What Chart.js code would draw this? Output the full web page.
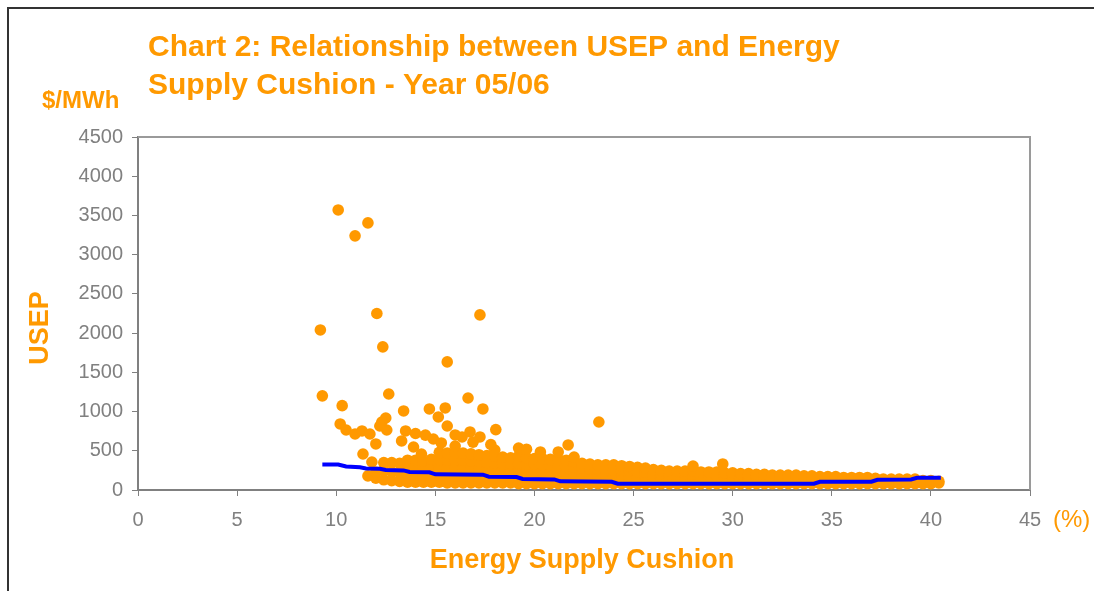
<!DOCTYPE html>
<html>
<head>
<meta charset="utf-8">
<script src="https://cdn.jsdelivr.net/npm/chart.js@4/dist/chart.umd.min.js"></script>
<style>
html,body{margin:0;padding:0;background:#fff;}
#wrap{position:relative;width:1094px;height:591px;}
</style>
</head>
<body>
<div id="wrap"><canvas id="c" width="1094" height="591"></canvas></div>
<script>
// ---- Data ----
const titleLines = ["Chart 2: Relationship between USEP and Energy", "Supply Cushion - Year 05/06"];
const xTitle = "Energy Supply Cushion";
const yTitle = "USEP";
const yUnit = "$/MWh";
const xUnit = "(%)";

// Scattered (outlying) observations: energy supply cushion (%) and USEP ($/MWh)
const outlierCushion = [9.2,9.3,10.1,10.95,11.6,12.05,12.35,17.25,15.6,12.65,10.3,13.4,14.7,15.5,16.65,17.4,15.15,23.25,18.05,21.7,28.0,29.5,
  12.5,12.3,10.2,10.5,10.95,11.3,11.7,12.2,12.55,15.6,12.0,11.35,11.8,13.5,13.3,13.9,14.3,16.75,17.25,16.0,16.35,18.0,19.2,20.3,21.2,22.0,14.0,14.5,14.9,15.3,16.9,17.8,19.6];
const outlierUsep = [2040,1200,3570,3240,3405,2250,1824,2232,1633,1224,1075,1008,1033,1046,1173,1033,931,867,770,574,306,332,
  918,867,842,765,714,753,714,816,765,816,587,459,357,753,625,548,459,740,676,702,676,510,535,485,485,420,720,700,650,600,610,580,520];

// Dense band of observations, column by column (cushion value, USEP values)
const bandCushion = [11.6,12.0,12.4,12.8,13.2,13.6,14.0,14.4,14.8,15.2,15.6,16.0,16.4,16.8,17.2,17.6,18.0,18.4,18.8,19.2,19.6,20.0,20.4,20.8,21.2,21.6,22.0,22.4,22.8,23.2,23.6,24.0,24.4,24.8,25.2,25.6,26.0,26.4,26.8,27.2,27.6,28.0,28.4,28.8,29.2,29.6,30.0,30.4,30.8,31.2,31.6,32.0,32.4,32.8,33.2,33.6,34.0,34.4,34.8,35.2,35.6,36.0,36.4,36.8,37.2,37.6,38.0,38.4,38.8,39.2,39.6,40.0,40.4];
const bandUsep = [
  [180],[150,230],[130,250,350],[120,230,350],[110,220,340],[100,200,300,380],[100,200,300,380],[100,190,290,370],[100,190,290,390],
  [100,190,290,390,480],[90,180,280,380,470],[90,180,280,380,470,560],[90,180,280,380,470],[90,170,270,370,460],[90,170,270,370,450],
  [90,170,260,350,440],[90,170,260,350,430],[90,160,250,340,420],[90,160,250,340,410],[80,160,250,340,430],[80,150,240,330,410],
  [80,150,240,330,400],[80,150,230,320,400],[80,140,230,310,390],[80,140,220,300,390],[80,140,220,300,380],[80,130,210,290,360],
  [80,130,200,280,340],[80,130,200,270,330],[80,120,190,260,320],[80,120,190,260,320],[80,120,180,250,320],[80,120,180,250,310],
  [80,120,180,240,300],[80,120,170,230,290],[80,120,170,230,280],[80,110,160,220,260],[80,110,160,210,250],[80,110,160,200,240],
  [80,110,150,200,240],[80,110,150,200,240],[80,110,150,200,240],[80,110,150,190,230],[80,110,150,190,230],[80,110,150,190,230],
  [80,110,150,190,220],[80,110,140,180,220],[80,110,140,180,210],[80,110,140,180,210],[80,110,140,170,200],[80,110,140,170,200],
  [80,100,130,170,190],[80,100,130,160,190],[80,100,130,160,190],[80,100,130,160,190],[80,100,130,160,180],[80,100,130,160,180],
  [80,100,130,150,170],[80,100,130,150,170],[80,100,120,150,170],[80,100,120,150,160],[80,100,120,140,160],[80,100,120,140,160],
  [80,100,120,140,160],[80,100,120,140,150],[80,100,120,140],[80,100,120,140],[80,100,120,140],[80,100,120,140],[80,100,120,140],
  [80,100,120],[80,100,120],[90,110]
];

// Blue trend line (stepped average)
const trendCushion = [9.3,10.1,10.5,11.2,11.5,12.2,12.5,13.4,13.7,14.7,15.0,17.4,17.7,19.1,19.4,21.0,21.3,23.9,24.2,34.1,34.4,37.0,37.3,39.0,39.3,40.5];
const trendUsep = [325,325,300,290,275,270,255,250,230,225,200,195,170,165,140,135,110,105,80,80,105,105,130,135,155,155];

// Axis ticks
const xTickMin = 0, xTickMax = 45, xTickStep = 5;
const yTickMin = 0, yTickMax = 4500, yTickStep = 500;

// ---- Build library structures ----
const scatterPoints = [];
bandCushion.forEach((cx, i) => bandUsep[i].forEach(v => scatterPoints.push({x: cx, y: v})));
outlierCushion.forEach((cx, i) => scatterPoints.push({x: cx, y: outlierUsep[i]}));
const trendPoints = trendCushion.map((cx, i) => ({x: cx, y: trendUsep[i]}));

const ORANGE = '#FF9900';
const GREY = '#808080';
const FONT = '"Liberation Sans", Arial, Helvetica, sans-serif';

const decor = {
  id: 'decor',
  beforeDraw(chart) {
    const ctx = chart.ctx;
    ctx.save();
    ctx.fillStyle = '#fff';
    ctx.fillRect(0, 0, chart.width, chart.height);
    ctx.strokeStyle = '#333';
    ctx.lineWidth = 2;
    ctx.beginPath();
    ctx.moveTo(8, chart.height);
    ctx.lineTo(8, 8);
    ctx.lineTo(chart.width, 8);
    ctx.stroke();
    ctx.restore();
  },
  afterDraw(chart) {
    const ctx = chart.ctx;
    const a = chart.chartArea;
    ctx.save();
    // plot border (top & right)
    ctx.strokeStyle = '#9a9a9a';
    ctx.lineWidth = 2;
    ctx.beginPath();
    ctx.moveTo(a.left, a.top);
    ctx.lineTo(a.right, a.top);
    ctx.lineTo(a.right, a.bottom);
    ctx.stroke();

    ctx.fillStyle = ORANGE;
    ctx.textAlign = 'left';
    ctx.textBaseline = 'alphabetic';
    ctx.font = 'bold 30px ' + FONT;
    ctx.fillText(titleLines[0], 148, 56);
    ctx.fillText(titleLines[1], 148, 94);

    ctx.font = 'bold 24px ' + FONT;
    ctx.fillText(yUnit, 42, 108);

    ctx.font = '24px ' + FONT;
    ctx.textBaseline = 'middle';
    ctx.fillText(xUnit, 1053, 520);

    ctx.font = 'bold 27px ' + FONT;
    ctx.textAlign = 'center';
    ctx.textBaseline = 'alphabetic';
    ctx.fillText(xTitle, 582, 568);

    ctx.translate(41, 328);
    ctx.rotate(-Math.PI / 2);
    ctx.textBaseline = 'middle';
    ctx.fillText(yTitle, 0, 0);
    ctx.restore();
  }
};

new Chart(document.getElementById('c'), {
  type: 'scatter',
  data: {
    datasets: [
      {
        type: 'line',
        label: 'Trend',
        data: trendPoints,
        borderColor: '#0000FF',
        borderWidth: 4,
        pointRadius: 0,
        fill: false,
        tension: 0,
        order: 0
      },
      {
        label: 'USEP',
        data: scatterPoints,
        backgroundColor: ORANGE,
        borderWidth: 0,
        pointRadius: 5.8,
        order: 1
      }
    ]
  },
  options: {
    responsive: false,
    animation: false,
    devicePixelRatio: 1,
    layout: { padding: { top: 137, right: 64, left: 0, bottom: 0 } },
    plugins: { legend: { display: false }, title: { display: false }, tooltip: { enabled: false } },
    scales: {
      x: {
        type: 'linear',
        min: xTickMin, max: xTickMax,
        ticks: { stepSize: xTickStep, color: GREY, font: { family: FONT, size: 20 }, padding: 12, maxRotation: 0,
                 callback: v => String(v) },
        grid: { drawOnChartArea: false, tickLength: 6, color: GREY, lineWidth: 1 },
        border: { color: GREY, width: 2 },
        afterFit(s) { s.height = 101; }
      },
      y: {
        type: 'linear',
        min: yTickMin, max: yTickMax,
        ticks: { stepSize: yTickStep, color: GREY, font: { family: FONT, size: 20 }, padding: 9,
                 callback: v => String(v) },
        grid: { drawOnChartArea: false, tickLength: 6, color: GREY, lineWidth: 1 },
        border: { color: GREY, width: 2 },
        afterFit(s) { s.width = 138; }
      }
    }
  },
  plugins: [decor]
});
</script>
</body>
</html>
